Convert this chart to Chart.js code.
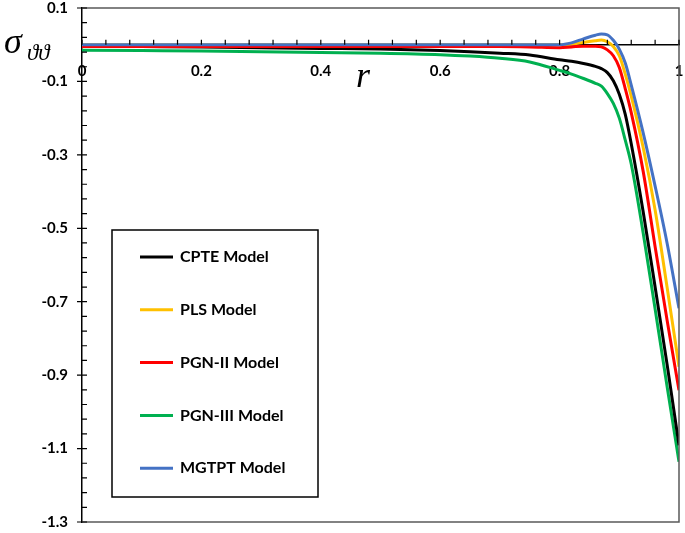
<!DOCTYPE html>
<html>
<head>
<meta charset="utf-8">
<script src="https://cdn.jsdelivr.net/npm/chart.js@4/dist/chart.umd.min.js"></script>
<style>
  body { margin: 0; background: #fff; }
  #wrap { width: 685px; height: 533px; }
</style>
</head>
<body>
<div id="wrap"><canvas id="chart" width="685" height="533"></canvas></div>
<script>
// radial position r
const rValues = [0, 0.1, 0.2, 0.3, 0.4, 0.5, 0.6, 0.65, 0.7, 0.75, 0.8, 0.82, 0.84, 0.86, 0.87, 0.88, 0.89, 0.9, 0.91, 0.92, 0.94, 0.96, 0.98, 1];

// sigma_theta_theta for each model
const cpte   = [-0.004, -0.005, -0.006, -0.008, -0.010, -0.012, -0.016, -0.019, -0.023, -0.028, -0.041, -0.045, -0.051, -0.059, -0.065, -0.076, -0.098, -0.135, -0.19, -0.27, -0.455, -0.66, -0.87, -1.091];
const pls    = [0, 0, 0, 0, 0, 0, 0, 0, 0, 0, 0, 0.002, 0.006, 0.011, 0.013, 0.008, -0.005, -0.03, -0.08, -0.14, -0.28, -0.45, -0.66, -0.877];
const pgn2   = [-0.005, -0.005, -0.005, -0.005, -0.005, -0.005, -0.005, -0.005, -0.005, -0.006, -0.008, -0.006, -0.004, -0.004, -0.006, -0.014, -0.03, -0.062, -0.12, -0.185, -0.345, -0.55, -0.75, -0.941];
const pgn3   = [-0.015, -0.016, -0.017, -0.019, -0.021, -0.023, -0.027, -0.031, -0.037, -0.047, -0.07, -0.08, -0.092, -0.105, -0.113, -0.133, -0.16, -0.2, -0.26, -0.325, -0.513, -0.72, -0.93, -1.136];
const mgtpt  = [0, 0, 0, 0, 0, 0, 0, 0, 0, 0, 0, 0.005, 0.016, 0.026, 0.029, 0.027, 0.012, -0.012, -0.05, -0.11, -0.24, -0.385, -0.54, -0.718];

const seriesNames = ['CPTE Model', 'PLS Model', 'PGN-II Model', 'PGN-III Model', 'MGTPT Model'];
const seriesColors = ['#000000', '#FFC000', '#FF0000', '#00B050', '#4472C4'];
const seriesData = [cpte, pls, pgn2, pgn3, mgtpt];
const drawOrder = [4, 3, 2, 5, 1];

const xLabels = [0, 0.2, 0.4, 0.6, 0.8, 1];
const yLabels = [0.1, -0.1, -0.3, -0.5, -0.7, -0.9, -1.1, -1.3];

const tickFont = { family: 'Lato', size: 15, weight: 'bold' };

// ticks, frame, titles and the boxed legend
const decorPlugin = {
  id: 'decor',
  afterDraw(chart) {
    const ctx = chart.ctx;
    const xs = chart.scales.x, ys = chart.scales.y;
    const a = chart.chartArea;
    const y0 = ys.getPixelForValue(0);
    ctx.save();
    // frame on top, right, bottom
    ctx.strokeStyle = '#595959';
    ctx.lineWidth = 1.5;
    ctx.beginPath();
    ctx.moveTo(a.left, a.top); ctx.lineTo(a.right, a.top);
    ctx.lineTo(a.right, a.bottom); ctx.lineTo(a.left, a.bottom);
    ctx.stroke();

    ctx.strokeStyle = '#000';
    ctx.lineWidth = 1.2;
    ctx.beginPath();
    // x ticks every 0.04
    for (let i = 0; i <= 25; i++) {
      const px = xs.getPixelForValue(i * 0.04);
      ctx.moveTo(px, y0); ctx.lineTo(px, y0 - 5);
    }
    // y ticks every 0.04, majors cross the axis
    for (let i = 0; i <= 35; i++) {
      const py = ys.getPixelForValue(0.1 - i * 0.04);
      const major = i % 5 === 0;
      ctx.moveTo(a.left - (major ? 5 : 0), py); ctx.lineTo(a.left + 5, py);
    }
    ctx.stroke();

    // axis titles
    ctx.fillStyle = '#000';
    ctx.textBaseline = 'alphabetic';
    ctx.textAlign = 'left';
    ctx.font = 'italic 36px "Liberation Serif"';
    ctx.fillText('\u03c3', 4, 53);
    ctx.font = 'italic 23px "Liberation Serif"';
    ctx.fillText('\u03d1\u03d1', 27, 60);
    ctx.font = 'italic 36px "Liberation Serif"';
    ctx.fillText('r', 356, 87);

    // legend box
    const box = { l: 112, t: 230, w: 206, h: 267 };
    ctx.fillStyle = '#fff';
    ctx.fillRect(box.l, box.t, box.w, box.h);
    ctx.strokeStyle = '#000';
    ctx.lineWidth = 1.5;
    ctx.strokeRect(box.l, box.t, box.w, box.h);
    ctx.font = 'bold 16px Lato';
    ctx.textBaseline = 'middle';
    chart.data.datasets.forEach((ds, i) => {
      const ly = 257 + i * 52.8;
      ctx.strokeStyle = ds.borderColor;
      ctx.lineWidth = 3;
      ctx.beginPath();
      ctx.moveTo(140, ly); ctx.lineTo(173, ly);
      ctx.stroke();
      ctx.fillStyle = '#000';
      ctx.fillText(ds.label, 180, ly);
    });
    ctx.restore();
  }
};

new Chart(document.getElementById('chart'), {
  type: 'line',
  data: {
    datasets: seriesNames.map((name, i) => ({
      label: name,
      data: rValues.map((r, j) => ({ x: r, y: seriesData[i][j] })),
      borderColor: seriesColors[i],
      borderWidth: 3,
      pointRadius: 0,
      cubicInterpolationMode: 'monotone',
      fill: false,
      order: drawOrder[i]
    }))
  },
  options: {
    responsive: false,
    animation: false,
    layout: { padding: { left: 10, top: 8, right: 6, bottom: 11 } },
    plugins: { legend: { display: false }, tooltip: { enabled: false } },
    scales: {
      x: {
        type: 'linear',
        min: 0,
        max: 1,
        position: { y: 0 },
        afterBuildTicks: s => { s.ticks = xLabels.map(v => ({ value: v })); },
        afterFit: s => { s.paddingLeft = 0; s.paddingRight = 0; s.paddingTop = 0; s.paddingBottom = 0; },
        grid: { display: false, drawTicks: false },
        border: { display: true, color: '#000', width: 1.5 },
        ticks: { font: tickFont, color: '#000', padding: 17, maxRotation: 0,
                 callback: v => String(v) }
      },
      y: {
        type: 'linear',
        min: -1.3,
        max: 0.1,
        afterBuildTicks: s => { s.ticks = yLabels.map(v => ({ value: v })); },
        afterFit: s => { s.width = 72; s.paddingTop = 0; s.paddingBottom = 0; s.paddingLeft = 0; s.paddingRight = 0; },
        grid: { display: false, drawTicks: false },
        border: { display: true, color: '#000', width: 1.5 },
        ticks: { font: tickFont, color: '#000', padding: 14,
                 callback: v => String(v) }
      }
    }
  },
  plugins: [decorPlugin]
});
</script>
</body>
</html>
